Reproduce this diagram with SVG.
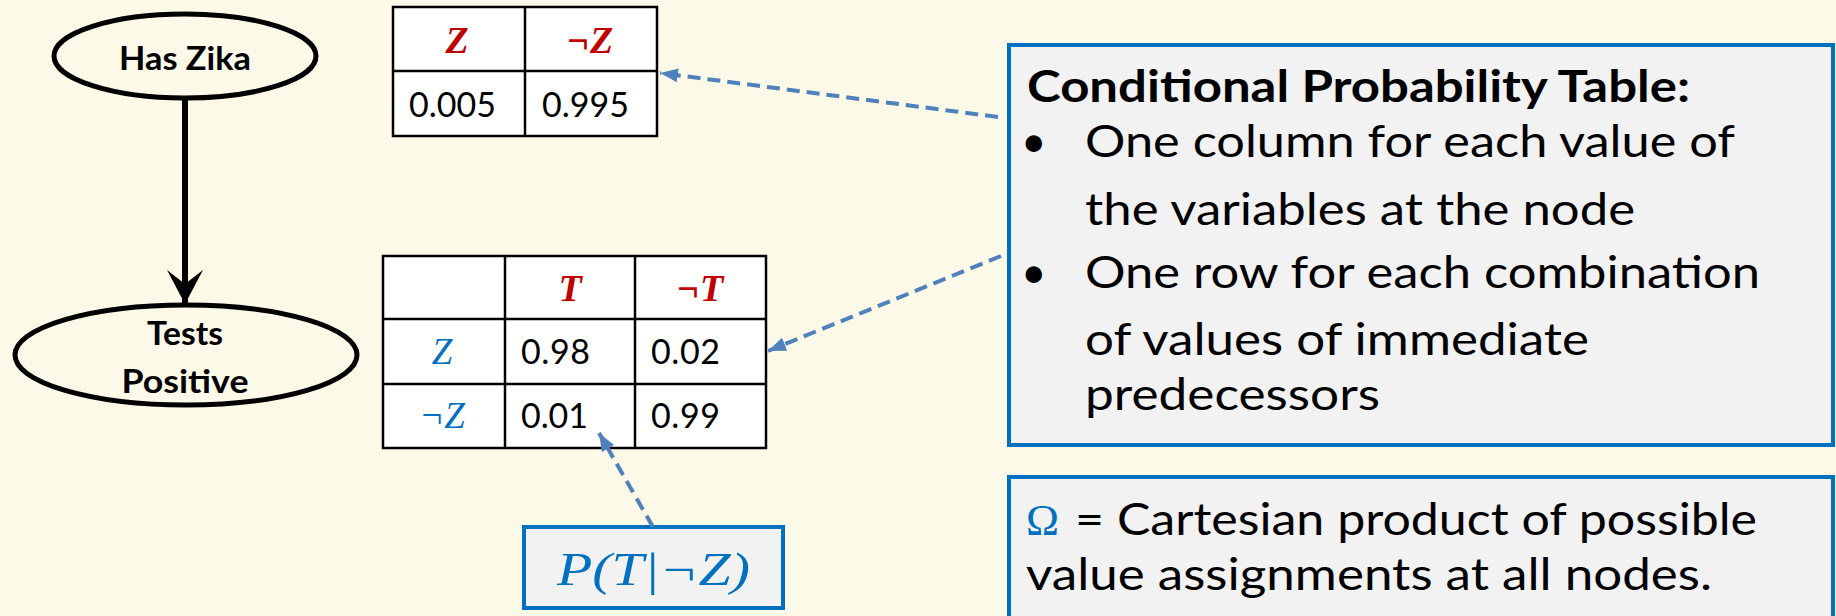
<svg xmlns="http://www.w3.org/2000/svg" width="1836" height="616" viewBox="0 0 1836 616">
<style>
.bg{fill:#FDF9E8}
.node{fill:#FDF9E8;stroke:#000;stroke-width:5}
.nt{font-family:Lato,"Liberation Sans",sans-serif;font-weight:bold;font-size:33px;fill:#000;text-anchor:middle}
.cell{fill:#FFFFFF;stroke:#000;stroke-width:2.5}
.grid{stroke:#000;stroke-width:2.5;fill:none}
.num{font-family:Lato,"Liberation Sans",sans-serif;font-size:34px;fill:#000}
.hdr{font-family:"Liberation Serif","DejaVu Serif",serif;font-style:italic;font-weight:bold;font-size:38px;fill:#C00000;text-anchor:middle}
.var{font-family:"Liberation Serif","DejaVu Serif",serif;font-style:italic;font-size:37px;fill:#0070C0;text-anchor:middle}
.box{fill:#F2F2F2;stroke:#0070C0;stroke-width:4}
.txt{font-family:Lato,"Liberation Sans",sans-serif;font-size:44px;fill:#000}
.ttl{font-family:Lato,"Liberation Sans",sans-serif;font-size:43px;font-weight:bold;fill:#000}
.dash{stroke:#4F81BD;stroke-width:4;stroke-dasharray:13 7;fill:none}
.solid{stroke:#000;stroke-width:6;fill:none}
</style>
<defs>
<marker id="blueHead" markerUnits="userSpaceOnUse" markerWidth="20" markerHeight="16" viewBox="0 0 20 16" refX="18" refY="8" orient="auto">
<path d="M0,1 L18,8 L0,15 Z" fill="#4F81BD"/>
</marker>
<marker id="blackHead" markerUnits="userSpaceOnUse" markerWidth="40" markerHeight="40" viewBox="0 0 40 40" refX="34" refY="20" orient="auto">
<path d="M0,2 L34,20 L0,38 L14,20 Z" fill="#000"/>
</marker>
</defs>
<rect class="bg" x="0" y="0" width="1836" height="616"/>

<g id="node-has-zika">
<ellipse class="node" cx="185" cy="56" rx="131" ry="42"/>
<text class="nt" x="185" y="70" textLength="132" lengthAdjust="spacingAndGlyphs">Has Zika</text>
</g>

<g id="node-tests-positive">
<ellipse class="node" cx="186" cy="355" rx="171" ry="50"/>
<text class="nt" x="185" y="345" textLength="76" lengthAdjust="spacingAndGlyphs">Tests</text>
<text class="nt" x="185" y="393" textLength="127" lengthAdjust="spacingAndGlyphs">Positive</text>
</g>

<g id="table-z">
<rect class="cell" x="393" y="7" width="264" height="129"/>
<line class="grid" x1="525" y1="7" x2="525" y2="136"/>
<line class="grid" x1="393" y1="71" x2="657" y2="71"/>
<text class="hdr" x="457" y="53">Z</text>
<text class="hdr" x="590" y="53">¬Z</text>
<text class="num" x="409" y="117" textLength="87">0.005</text>
<text class="num" x="542" y="117" textLength="87">0.995</text>
</g>

<g id="table-t">
<rect class="cell" x="383" y="256" width="383" height="192"/>
<line class="grid" x1="505" y1="256" x2="505" y2="448"/>
<line class="grid" x1="635" y1="256" x2="635" y2="448"/>
<line class="grid" x1="383" y1="319" x2="766" y2="319"/>
<line class="grid" x1="383" y1="384" x2="766" y2="384"/>
<text class="hdr" x="570" y="301">T</text>
<text class="hdr" x="700" y="301">¬T</text>
<text class="var" x="442" y="364">Z</text>
<text class="var" x="442" y="428">¬Z</text>
<text class="num" x="521" y="364" textLength="69">0.98</text>
<text class="num" x="651" y="364" textLength="69">0.02</text>
<text class="num" x="521" y="428" textLength="67">0.01</text>
<text class="num" x="651" y="428" textLength="69">0.99</text>
</g>

<g id="label-p">
<rect class="box" x="524" y="527" width="259" height="81"/>
<text class="var" x="557" y="585" style="font-size:47px;text-anchor:start" textLength="193" lengthAdjust="spacingAndGlyphs">P(T|¬Z)</text>
</g>

<g id="cpt-box">
<rect class="box" x="1009" y="45" width="824" height="400"/>
<text class="ttl" x="1027" y="102" textLength="663" lengthAdjust="spacingAndGlyphs">Conditional Probability Table:</text>
<text class="txt" x="1021" y="157">•</text>
<text class="txt" x="1085" y="157" textLength="650" lengthAdjust="spacingAndGlyphs">One column for each value of</text>
<text class="txt" x="1085" y="225" textLength="550" lengthAdjust="spacingAndGlyphs">the variables at the node</text>
<text class="txt" x="1021" y="288">•</text>
<text class="txt" x="1085" y="288" textLength="675" lengthAdjust="spacingAndGlyphs">One row for each combination</text>
<text class="txt" x="1085" y="355" textLength="504" lengthAdjust="spacingAndGlyphs">of values of immediate</text>
<text class="txt" x="1085" y="410" textLength="295" lengthAdjust="spacingAndGlyphs">predecessors</text>
</g>

<g id="omega-box">
<rect class="box" x="1009" y="477" width="824" height="160"/>
<text class="txt" x="1026" y="535" style="fill:#0070C0;font-family:'Liberation Serif',serif" textLength="33" lengthAdjust="spacingAndGlyphs">Ω</text>
<text class="txt" x="1075" y="535" textLength="682" lengthAdjust="spacingAndGlyphs">= Cartesian product of possible</text>
<text class="txt" x="1026" y="590" textLength="686" lengthAdjust="spacingAndGlyphs">value assignments at all nodes.</text>
</g>

<g id="connectors">
<line class="solid" x1="185" y1="98" x2="185" y2="304" marker-end="url(#blackHead)"/>
<line class="dash" x1="998" y1="117" x2="660" y2="73" marker-end="url(#blueHead)"/>
<line class="dash" x1="1001" y1="256" x2="768" y2="351" marker-end="url(#blueHead)"/>
<line class="dash" x1="653" y1="527" x2="599" y2="433" marker-end="url(#blueHead)"/>
</g>
</svg>
